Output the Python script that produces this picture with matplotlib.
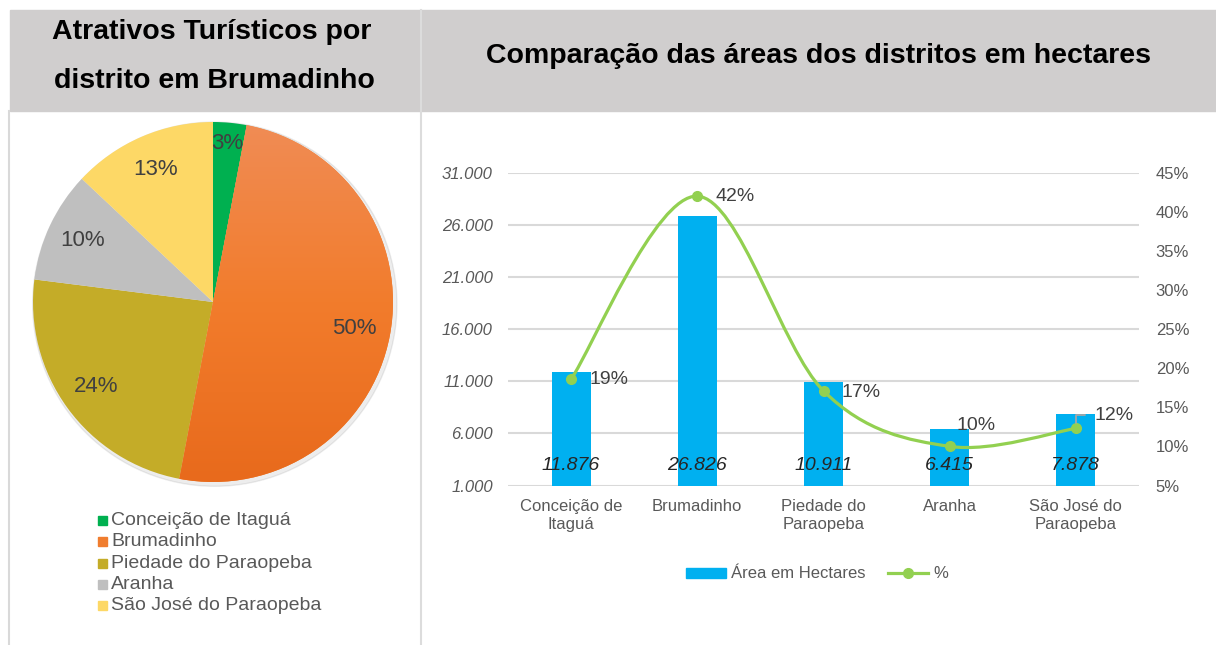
import numpy as np
import matplotlib

matplotlib.use("Agg")
import matplotlib.pyplot as plt
from matplotlib.patches import Rectangle, PathPatch, Patch
from matplotlib.path import Path
from matplotlib.lines import Line2D
from matplotlib.ticker import FuncFormatter

plt.rcParams["font.family"] = ["Liberation Sans", "DejaVu Sans"]

# --- data -------------------------------------------------------------
districts = ["Conceição de Itaguá", "Brumadinho", "Piedade do Paraopeba",
             "Aranha", "São José do Paraopeba"]
attractions_pct = [3, 50, 24, 10, 13]
pie_colors = ["#00B050", "#F07D2E", "#C4AC28", "#BFBFBF", "#FDD866"]

area_labels = ["Conceição de\nItaguá", "Brumadinho", "Piedade do\nParaopeba",
               "Aranha", "São José do\nParaopeba"]
area_ha = [11876, 26826, 10911, 6415, 7878]
area_pct = [18.6, 42.0, 17.1, 10.0, 12.3]

W, H = 1216, 645
GRAY_TXT = "#595959"
DARK_TXT = "#404040"


def fx(px):
    return px / W


def fy(py):
    return 1 - py / H


fig = plt.figure(figsize=(W / 100, H / 100), dpi=100)

# --- frame / headers --------------------------------------------------
fig.patches.append(Rectangle((fx(10), fy(111)), 1 - fx(10), fy(10) - fy(111),
                             transform=fig.transFigure, color="#D0CECE", zorder=0))
fig.lines.append(Line2D([fx(421), fx(421)], [fy(10), 0], transform=fig.transFigure,
                        color="#DCDCDC", lw=1.5))
fig.lines.append(Line2D([fx(9), fx(9)], [fy(111), 0], transform=fig.transFigure,
                        color="#D9D9D9", lw=1.5))

fig.text(fx(212), fy(39), "Atrativos Turísticos por", ha="center", va="baseline",
         fontsize=20.5, fontweight="bold", color="black")
fig.text(fx(214), fy(88), "distrito em Brumadinho", ha="center", va="baseline",
         fontsize=20.5, fontweight="bold", color="black")
fig.text(fx(818), fy(63), "Comparação das áreas dos distritos em hectares",
         ha="center", va="baseline", fontsize=20.5, fontweight="bold", color="black")

# --- pie --------------------------------------------------------------
cx, cy, r = 213, 302, 180
pax = fig.add_axes([fx(cx - r), fy(cy + r), 2 * r / W, 2 * r / H])
pax.axis("off")
shadow = plt.Circle((0.01, -0.012), 1.012, color="black", alpha=0.07, zorder=0)
shadow.set_clip_on(False)
pax.add_patch(shadow)
wedges, _, autotexts = pax.pie(attractions_pct, colors=pie_colors, startangle=90,
                               counterclock=False, radius=1.0, autopct="%d%%",
                               pctdistance=0.8, wedgeprops=dict(linewidth=0),
                               textprops=dict(fontsize=16, color=DARK_TXT))
autotexts[0].set_position((0.08, 0.88))

# orange slice shading (lighter at top)
grad = np.linspace(0, 1, 256).reshape(-1, 1)
cmap = matplotlib.colors.LinearSegmentedColormap.from_list("o", ["#F08C55", "#F27C2C", "#E86A1C"])
im = pax.imshow(grad, extent=(-1, 1, -1, 1), cmap=cmap, origin="upper",
                aspect="auto", zorder=wedges[1].get_zorder() + 0.1)
im.set_clip_path(wedges[1])
pax.set_xlim(-1.0, 1.0)
pax.set_ylim(-1.0, 1.0)
for t in autotexts:
    t.set_zorder(5)

# legend for the pie
for i, (name, col) in enumerate(zip(districts, pie_colors)):
    ly = 520.5 + i * 21.3
    fig.patches.append(Rectangle((fx(98), fy(ly + 4.5)), 9 / W, 9 / H,
                                 transform=fig.transFigure, color=col))
    fig.text(fx(111), fy(ly), name, ha="left", va="center", fontsize=14, color=GRAY_TXT)

# --- bar + line combo -------------------------------------------------
x = np.arange(len(area_ha))
ax = fig.add_axes([fx(508), fy(485.5), (1139 - 508) / W, (485.5 - 172.7) / H])
ax.bar(x, area_ha, width=0.31, color="#00B0F0", zorder=2)
ax.set_xlim(-0.5, len(area_ha) - 0.5)
ax.set_ylim(1000, 31000)
ax.set_yticks(np.arange(1000, 31001, 5000))
ax.yaxis.set_major_formatter(FuncFormatter(lambda v, p: f"{int(v):,}".replace(",", ".")))
ax.set_xticks(x)
ax.set_xticklabels(area_labels, fontsize=12, color=GRAY_TXT, linespacing=1.25)
for t in ax.get_yticklabels():
    t.set_fontstyle("italic")
ax.tick_params(axis="y", length=0, pad=11, labelsize=12, labelcolor=GRAY_TXT)
ax.tick_params(axis="x", length=0, pad=10)
ax.grid(axis="y", color="#D9D9D9", lw=1.5)
ax.set_axisbelow(True)
for s in ax.spines.values():
    s.set_visible(False)

for xi, v in zip(x, area_ha):
    ax.annotate(f"{v:,}".replace(",", "."), xy=(xi, 0), xycoords=("data", "axes fraction"),
                xytext=(0, 20), textcoords="offset pixels", ha="center", va="center",
                fontsize=14, fontstyle="italic", color="#262626", zorder=4)

ax2 = ax.twinx()
ax2.set_ylim(5, 45)
ax2.set_yticks(np.arange(5, 46, 5))
ax2.yaxis.set_major_formatter(FuncFormatter(lambda v, p: f"{int(v)}%"))
ax2.tick_params(axis="y", length=0, pad=12, labelsize=12, labelcolor=GRAY_TXT)
for s in ax2.spines.values():
    s.set_visible(False)

# smoothed line (Catmull-Rom style bezier through the points)
pts = np.column_stack([x, area_pct]).astype(float)
verts = [pts[0]]
codes = [Path.MOVETO]
n = len(pts)
for i in range(n - 1):
    p0 = pts[max(i - 1, 0)]
    p1 = pts[i]
    p2 = pts[i + 1]
    p3 = pts[min(i + 2, n - 1)]
    verts += [p1 + (p2 - p0) / 6, p2 - (p3 - p1) / 6, p2]
    codes += [Path.CURVE4] * 3
line_col = "#92D050"
ax2.add_patch(PathPatch(Path(verts, codes), facecolor="none", edgecolor=line_col,
                        lw=2.3, capstyle="round", zorder=3))
ax2.plot(x, area_pct, "o", color=line_col, ms=7, zorder=4)

offsets = [(18, 0, "left"), (18, 0, "left"), (18, -2, "left"), (26, 21, "center"), (19, 13, "left")]
for i, (xi, v) in enumerate(zip(x, area_pct)):
    dx, dy, ha = offsets[i]
    kw = {}
    if i == len(x) - 1:
        kw["arrowprops"] = dict(arrowstyle="-", color="#A6A6A6", lw=1.3, shrinkA=5, shrinkB=4,
                                relpos=(0, 0.5),
                                connectionstyle="angle,angleA=0,angleB=90,rad=0")
    ax2.annotate(f"{round(v)}%", xy=(xi, v), xytext=(dx, dy), textcoords="offset pixels",
                 ha=ha, va="center", fontsize=14, color=DARK_TXT, zorder=5, **kw)

handles = [Patch(color="#00B0F0", label="Área em Hectares"),
           Line2D([], [], color=line_col, lw=2.3, marker="o", ms=7, label="%")]
fig.legend(handles=handles, loc="center", bbox_to_anchor=(fx(817), fy(574)), ncol=2,
           frameon=False, fontsize=12, labelcolor=GRAY_TXT, handlelength=2.45,
           handleheight=0.55, handletextpad=0.3, columnspacing=1.3)

fig.savefig("out.png", dpi=100, facecolor="white")
